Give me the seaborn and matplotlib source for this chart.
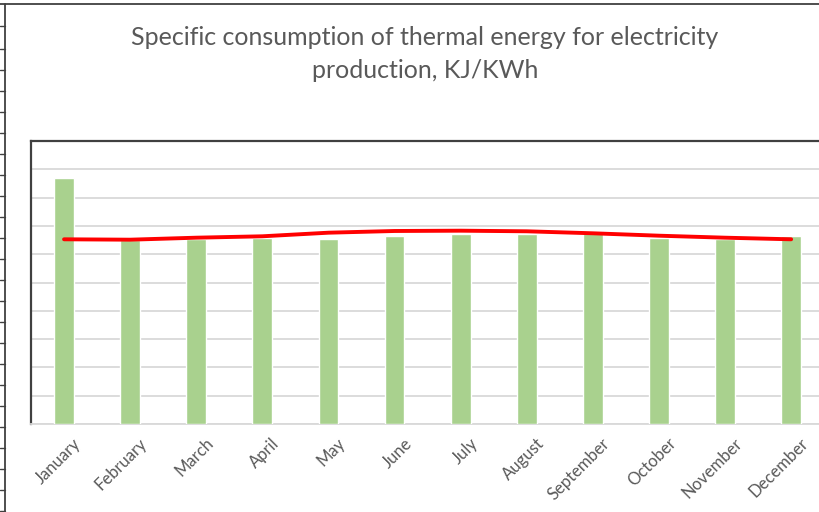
import numpy as np
import pandas as pd
import seaborn as sns
import matplotlib.pyplot as plt
from matplotlib.lines import Line2D
from matplotlib.transforms import ScaledTranslation

months = ["January", "February", "March", "April", "May", "June",
          "July", "August", "September", "October", "November", "December"]
consumption = [13020, 9753, 9806, 9859, 9822, 9949,
               10087, 10055, 10214, 9843, 9822, 9949]
trend = [9790, 9769, 9875, 9949, 10140, 10230,
         10246, 10214, 10108, 9981, 9875, 9790]
y_max = 15000
y_step = 1500

df = pd.DataFrame({"month": months, "value": consumption, "trend": trend})

sns.set_theme(style="white")
plt.rcParams["font.family"] = ["Lato", "DejaVu Sans"]

W, H = 820, 512
fig = plt.figure(figsize=(W / 100, H / 100), dpi=100)
fig.patch.set_facecolor("white")

# plot area (extends past the right edge of the canvas)
left, top, bottom = 31, 141, 424
cat_w = 66.1
ax = fig.add_axes([left / W, 1 - bottom / H, 12 * cat_w / W, (bottom - top) / H])

sns.barplot(data=df, x="month", y="value", color="#A9D18E", width=0.3,
            saturation=1, ax=ax, zorder=3)
sns.lineplot(data=df, x="month", y="trend", color="#FF0000", linewidth=2.8,
             sort=False, ax=ax, zorder=4)

ax.set_xlim(-0.5, 11.5)
ax.set_ylim(0, y_max)
ax.set_yticks(np.arange(0, y_max + 1, y_step))
ax.yaxis.grid(True, color="#D9D9D9", linewidth=1.3, zorder=0)
ax.set_axisbelow(True)
ax.tick_params(axis="y", left=False, labelleft=False)
ax.tick_params(axis="x", bottom=False, length=0, pad=8)
ax.set_xlabel("")
ax.set_ylabel("")

offset = ScaledTranslation(9 / 100, 0, fig.dpi_scale_trans)
for lab in ax.get_xticklabels():
    lab.set_rotation(45)
    lab.set_ha("right")
    lab.set_va("top")
    lab.set_rotation_mode("anchor")
    lab.set_fontsize(12)
    lab.set_color("#595959")
    lab.set_transform(lab.get_transform() + offset)

for side in ("left", "top"):
    ax.spines[side].set_color("#404040")
    ax.spines[side].set_linewidth(1.6)
ax.spines["bottom"].set_color("#D9D9D9")
ax.spines["bottom"].set_linewidth(1.3)
ax.spines["right"].set_visible(False)

fig.text(425 / W, 1 - 54 / H,
         "Specific consumption of thermal energy for electricity\nproduction, KJ/KWh",
         ha="center", va="center", fontsize=18, color="#595959", linespacing=1.5)

# chart border and the worksheet cells beside it
fig.add_artist(Line2D([5 / W, 5 / W], [0, 1 - 4 / H], color="#404040", lw=1.3))
fig.add_artist(Line2D([0, 1], [1 - 4 / H, 1 - 4 / H], color="#404040", lw=1.3))
for y in [26] + list(range(49, 512, 21)):
    fig.add_artist(Line2D([0, 5 / W], [1 - y / H, 1 - y / H], color="#404040", lw=1.0))

fig.savefig("out.png", dpi=100)
